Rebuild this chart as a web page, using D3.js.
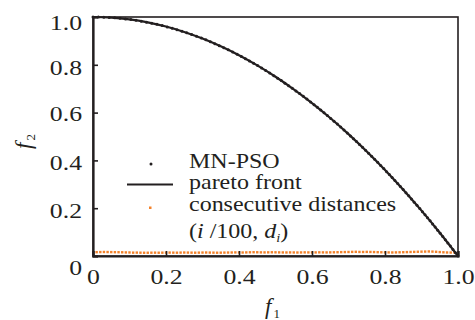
<!DOCTYPE html>
<html>
<head>
<meta charset="utf-8">
<script src="https://cdn.jsdelivr.net/npm/d3@7"></script>
<style>
  body { margin: 0; background: #fff; }
  svg { display: block; font-family: "Liberation Serif", "Times New Roman", serif; }
</style>
</head>
<body>
<div id="chart"></div>
<script>
// pareto front
const frontF1 = [0, 0.05, 0.1, 0.15, 0.2, 0.25, 0.3, 0.35, 0.4, 0.45, 0.5, 0.55, 0.6, 0.65, 0.7, 0.75, 0.8, 0.85, 0.9, 0.95, 1.0];
const frontF2 = [1, 0.9975, 0.99, 0.9775, 0.96, 0.9375, 0.91, 0.8775, 0.84, 0.7975, 0.75, 0.6975, 0.64, 0.5775, 0.51, 0.4375, 0.36, 0.2775, 0.19, 0.0975, 0];

// MN-PSO solutions (100 points along the front)
const psoF1 = [0, 0.0148, 0.0297, 0.0445, 0.0594, 0.0742, 0.0890, 0.1037, 0.1180, 0.1323,
  0.1466, 0.1609, 0.1752, 0.1895, 0.2035, 0.2169, 0.2302, 0.2436, 0.2569, 0.2703,
  0.2836, 0.2970, 0.3094, 0.3217, 0.3339, 0.3461, 0.3584, 0.3706, 0.3828, 0.3950,
  0.4066, 0.4177, 0.4288, 0.4399, 0.4510, 0.4621, 0.4732, 0.4843, 0.4954, 0.5059,
  0.5159, 0.5260, 0.5360, 0.5461, 0.5561, 0.5661, 0.5762, 0.5862, 0.5963, 0.6057,
  0.6148, 0.6239, 0.6330, 0.6422, 0.6513, 0.6604, 0.6695, 0.6786, 0.6877, 0.6968,
  0.7054, 0.7137, 0.7219, 0.7302, 0.7385, 0.7468, 0.7551, 0.7634, 0.7716, 0.7799,
  0.7882, 0.7965, 0.8044, 0.8120, 0.8195, 0.8271, 0.8347, 0.8422, 0.8498, 0.8574,
  0.8650, 0.8725, 0.8801, 0.8877, 0.8953, 0.9026, 0.9096, 0.9165, 0.9235, 0.9304,
  0.9374, 0.9444, 0.9513, 0.9583, 0.9652, 0.9722, 0.9791, 0.9861, 0.9931, 1.0];
const psoF2 = [1, 0.9998, 0.9991, 0.9980, 0.9965, 0.9945, 0.9921, 0.9892, 0.9861, 0.9825,
  0.9785, 0.9741, 0.9693, 0.9641, 0.9586, 0.9530, 0.9470, 0.9407, 0.9340, 0.9269,
  0.9196, 0.9118, 0.9043, 0.8965, 0.8885, 0.8802, 0.8715, 0.8627, 0.8535, 0.8440,
  0.8347, 0.8255, 0.8161, 0.8065, 0.7966, 0.7865, 0.7761, 0.7655, 0.7546, 0.7441,
  0.7338, 0.7233, 0.7127, 0.7018, 0.6908, 0.6795, 0.6680, 0.6564, 0.6444, 0.6331,
  0.6220, 0.6107, 0.5993, 0.5876, 0.5758, 0.5639, 0.5518, 0.5395, 0.5271, 0.5145,
  0.5024, 0.4906, 0.4789, 0.4668, 0.4546, 0.4423, 0.4298, 0.4172, 0.4046, 0.3918,
  0.3787, 0.3656, 0.3529, 0.3407, 0.3284, 0.3159, 0.3033, 0.2907, 0.2778, 0.2649,
  0.2518, 0.2387, 0.2254, 0.2120, 0.1984, 0.1853, 0.1726, 0.1600, 0.1471, 0.1344,
  0.1213, 0.1081, 0.0950, 0.0817, 0.0684, 0.0548, 0.0414, 0.0276, 0.0138, 0];

// consecutive distances d_i, plotted at i/100
const distIndex = d3.range(1, 100);
const distValues = [0.0160, 0.0165, 0.0168, 0.0166, 0.0163, 0.0160, 0.0158, 0.0155, 0.0150, 0.0148,
  0.0140, 0.0142, 0.0138, 0.0135, 0.0136, 0.0138, 0.0140, 0.0137, 0.0139, 0.0141,
  0.0143, 0.0140, 0.0138, 0.0142, 0.0145, 0.0143, 0.0140, 0.0138, 0.0141, 0.0144,
  0.0146, 0.0143, 0.0140, 0.0137, 0.0139, 0.0142, 0.0145, 0.0147, 0.0150, 0.0148,
  0.0146, 0.0150, 0.0155, 0.0158, 0.0156, 0.0152, 0.0150, 0.0153, 0.0156, 0.0154,
  0.0151, 0.0149, 0.0147, 0.0150, 0.0148, 0.0146, 0.0149, 0.0152, 0.0150, 0.0148,
  0.0150, 0.0153, 0.0151, 0.0149, 0.0152, 0.0155, 0.0158, 0.0162, 0.0165, 0.0168,
  0.0172, 0.0175, 0.0170, 0.0168, 0.0172, 0.0169, 0.0165, 0.0160, 0.0156, 0.0152,
  0.0150, 0.0148, 0.0151, 0.0155, 0.0158, 0.0163, 0.0168, 0.0172, 0.0178, 0.0182,
  0.0185, 0.0190, 0.0184, 0.0176, 0.0165, 0.0155, 0.0148, 0.0145, 0.0150];

const xTicks = [0, 0.2, 0.4, 0.6, 0.8, 1.0];
const yTicks = [0, 0.2, 0.4, 0.6, 0.8, 1.0];
const legendLabels = ["MN-PSO", "pareto front", "consecutive distances"];

const W = 475, H = 320;
const margin = { top: 17, right: 17, bottom: 64, left: 93 };
const w = W - margin.left - margin.right;
const h = H - margin.top - margin.bottom;
const ink = "#231f20";
const orange = "#f4822a";
const stretch = "scaleX(1.17)";

const svg = d3.select("#chart").append("svg")
  .attr("width", W)
  .attr("height", H);

const g = svg.append("g")
  .attr("transform", "translate(" + margin.left + "," + margin.top + ")");

const x = d3.scaleLinear().domain([0, 1]).range([0, w]);
const y = d3.scaleLinear().domain([0, 1]).range([h, 0]);

const fmt = d => d === 0 ? "0" : d.toFixed(1);

// consecutive distances
g.append("g").selectAll("rect")
  .data(distIndex)
  .enter().append("rect")
  .attr("x", (d, i) => x(d / 100) - 1.2)
  .attr("y", (d, i) => y(distValues[i]) - 1.2)
  .attr("width", 2.4)
  .attr("height", 2.4)
  .attr("fill", orange);

// pareto front
const line = d3.line()
  .x((d, i) => x(frontF1[i]))
  .y((d, i) => y(frontF2[i]))
  .curve(d3.curveMonotoneX);

g.append("path")
  .datum(frontF1)
  .attr("d", line)
  .attr("fill", "none")
  .attr("stroke", ink)
  .attr("stroke-width", 2.2);

// MN-PSO points
g.append("g").selectAll("circle")
  .data(psoF1)
  .enter().append("circle")
  .attr("cx", d => x(d))
  .attr("cy", (d, i) => y(psoF2[i]))
  .attr("r", 1.5)
  .attr("fill", ink);

// frame
g.append("rect")
  .attr("width", w)
  .attr("height", h)
  .attr("fill", "none")
  .attr("stroke", ink)
  .attr("stroke-width", 1.6);

// x axis
const xAxis = g.append("g")
  .attr("transform", "translate(0," + h + ")")
  .call(d3.axisBottom(x).tickValues(xTicks).tickSize(-5).tickFormat(fmt));
xAxis.attr("font-family", null);
xAxis.select(".domain").attr("stroke", ink).attr("stroke-width", 2.2);
xAxis.selectAll(".tick line").attr("stroke", ink).attr("stroke-width", 1.6);
xAxis.selectAll("text")
  .attr("y", 28).attr("dy", null)
  .attr("fill", ink)
  .style("font-size", "22px")
  .style("transform-box", "fill-box")
  .style("transform-origin", "center")
  .style("transform", stretch);

// y axis
const yShift = { 0: 11, 0.2: 1.5, 0.4: 1.5, 0.6: 1, 0.8: 2, 1: 5 };
const yAxis = g.append("g")
  .call(d3.axisLeft(y).tickValues(yTicks).tickSize(-5).tickFormat(fmt));
yAxis.attr("font-family", null);
yAxis.select(".domain").attr("stroke", ink).attr("stroke-width", 2.2);
yAxis.selectAll(".tick line").attr("stroke", ink).attr("stroke-width", 1.6);
yAxis.selectAll("text")
  .attr("x", -11)
  .attr("dy", d => (yShift[d] + 7.3) + "px")
  .attr("fill", ink)
  .style("font-size", "22px")
  .style("transform-box", "fill-box")
  .style("transform-origin", "right center")
  .style("transform", stretch);

// axis titles
const xTitle = svg.append("text")
  .attr("x", 265).attr("y", 314)
  .attr("fill", ink)
  .style("font-size", "23px");
xTitle.append("tspan").style("font-style", "italic").text("f");
xTitle.append("tspan").attr("dx", 2).attr("dy", 4).style("font-size", "13px").text("1");

const yTitle = svg.append("text")
  .attr("transform", "translate(31,149) rotate(-90)")
  .attr("fill", ink)
  .style("font-size", "23px");
yTitle.append("tspan").style("font-style", "italic").text("f");
yTitle.append("tspan").attr("dx", 2).attr("dy", 4).style("font-size", "13px").text("2");

// legend
const legend = svg.append("g");
const legendText = (txt, yy) => legend.append("text")
  .attr("x", 189).attr("y", yy)
  .attr("fill", ink)
  .style("font-size", "20px")
  .style("transform-box", "fill-box")
  .style("transform-origin", "left center")
  .style("transform", "scaleX(1.2)")
  .text(txt);

legend.append("circle").attr("cx", 151).attr("cy", 164).attr("r", 1.5).attr("fill", ink);
legendText(legendLabels[0], 168.5);
legend.append("line")
  .attr("x1", 127).attr("x2", 173).attr("y1", 184.5).attr("y2", 184.5)
  .attr("stroke", ink).attr("stroke-width", 2);
legendText(legendLabels[1], 189);
legend.append("rect").attr("x", 149).attr("y", 206.5).attr("width", 2.5).attr("height", 2.5).attr("fill", orange);
legendText(legendLabels[2], 211);

const pt = legendText("", 238);
pt.append("tspan").text("(");
pt.append("tspan").style("font-style", "italic").text("i");
pt.append("tspan").text(" /100, ");
pt.append("tspan").style("font-style", "italic").text("d");
pt.append("tspan").attr("dy", 4).style("font-style", "italic").style("font-size", "12px").text("i");
pt.append("tspan").attr("dy", -4).text(")");
</script>
</body>
</html>
